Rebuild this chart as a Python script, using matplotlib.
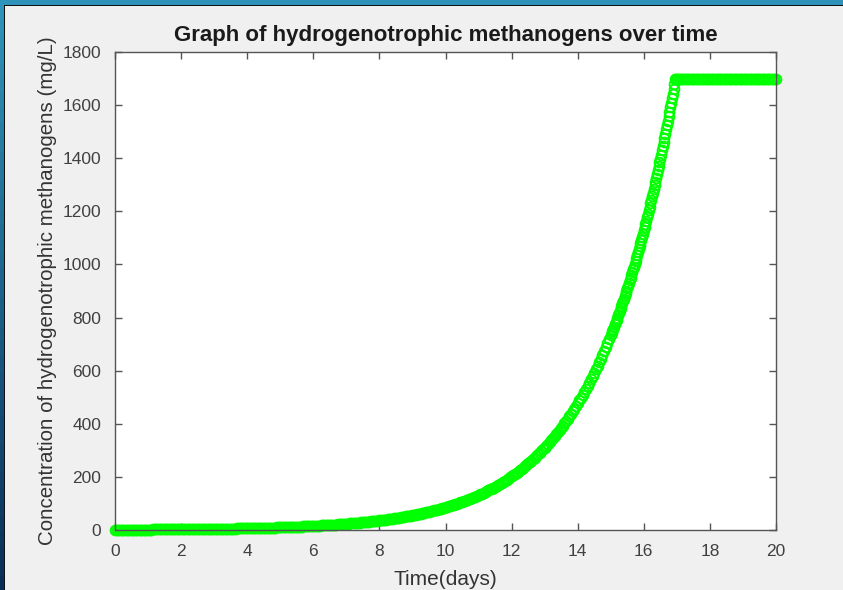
import numpy as np
import matplotlib
matplotlib.use("Agg")
import matplotlib.pyplot as plt
from matplotlib.patches import Rectangle

# Time grid (days) and biomass concentration (mg/L), sampled every 0.05 day
time_days = np.linspace(0, 20, 401)

conc_day0_6 = [
    1.16, 1.19, 1.21, 1.24, 1.26, 1.29, 1.32, 1.35, 1.38, 1.41, 1.44, 1.47, 1.50, 1.53, 1.57, 1.60, 1.64, 1.67, 1.71, 1.75,
    1.78, 1.82, 1.86, 1.90, 1.94, 1.99, 2.03, 2.07, 2.12, 2.16, 2.21, 2.26, 2.31, 2.36, 2.41, 2.46, 2.52, 2.57, 2.63, 2.68,
    2.74, 2.80, 2.86, 2.92, 2.99, 3.05, 3.12, 3.19, 3.26, 3.33, 3.40, 3.47, 3.55, 3.63, 3.70, 3.78, 3.87, 3.95, 4.04, 4.12,
    4.21, 4.31, 4.40, 4.49, 4.59, 4.69, 4.79, 4.90, 5.00, 5.11, 5.22, 5.34, 5.45, 5.57, 5.69, 5.82, 5.94, 6.07, 6.21, 6.34,
    6.48, 6.62, 6.76, 6.91, 7.06, 7.21, 7.37, 7.53, 7.69, 7.86, 8.03, 8.21, 8.38, 8.57, 8.75, 8.94, 9.14, 9.34, 9.54, 9.75,
    9.96, 10.17, 10.40, 10.62, 10.85, 11.09, 11.33, 11.58, 11.83, 12.08, 12.35, 12.62, 12.89, 13.17, 13.46, 13.75, 14.05, 14.35, 14.66, 14.98,
    15.31, 15.64, 15.98, 16.33, 16.68, 17.05, 17.42, 17.80, 18.18, 18.58, 18.98, 19.39, 19.81, 20.25, 20.69, 21.13, 21.59, 22.06, 22.54, 23.03,
]

conc_day7_12 = [
    23.5, 24.0, 24.6, 25.1, 25.6, 26.2, 26.8, 27.4, 28.0, 28.6, 29.2, 29.8, 30.5, 31.1, 31.8, 32.5, 33.2, 33.9, 34.7, 35.4,
    36.2, 37.0, 37.8, 38.6, 39.4, 40.3, 41.2, 42.1, 43.0, 43.9, 44.9, 45.8, 46.8, 47.8, 48.9, 49.9, 51.0, 52.1, 53.3, 54.4,
    55.6, 56.8, 58.1, 59.3, 60.6, 61.9, 63.3, 64.6, 66.1, 67.5, 69.0, 70.5, 72.0, 73.5, 75.1, 76.8, 78.4, 80.2, 81.9, 83.7,
    85.5, 87.4, 89.2, 91.2, 93.2, 95.2, 97.3, 99.4, 101.5, 103.7, 106.0, 108.3, 110.7, 113.1, 115.5, 118.0, 120.6, 123.2, 125.9, 128.6,
    131.4, 134.3, 137.2, 140.2, 143.2, 146.3, 149.5, 152.8, 156.1, 159.5, 162.9, 166.5, 170.1, 173.8, 177.6, 181.4, 185.4, 189.4, 193.5, 197.7,
    202.0, 206.4, 210.9, 215.5, 220.2, 225.0, 229.8, 234.8, 239.9, 245.2, 250.5, 255.9, 261.5, 267.2, 273.0, 278.9, 285.0, 291.2, 297.5, 304.0,
]

conc_day13_16 = [
    310.6, 317.3, 324.2, 331.3, 338.5, 345.8, 353.3, 361.0, 368.9, 376.9, 385.1, 393.4, 402.0, 410.7, 419.7, 428.8, 438.1, 447.6, 457.3, 467.3,
    477.4, 487.8, 498.4, 509.2, 520.3, 531.6, 543.2, 555.0, 567.0, 579.4, 592.0, 604.8, 618.0, 631.4, 645.1, 659.1, 673.5, 688.1, 703.0, 718.3,
    733.9, 749.9, 766.2, 782.8, 799.9, 817.2, 835.0, 853.1, 871.7, 890.6, 910.0, 929.8, 950.0, 970.6, 991.7, 1013.3, 1035.3, 1057.8, 1080.8, 1104.3,
    1128.3, 1152.8, 1177.8, 1203.4, 1229.6, 1256.3, 1283.6, 1311.5, 1340.0, 1369.1, 1398.9, 1429.3, 1460.3, 1492.1, 1524.5, 1557.6, 1591.5, 1626.1, 1661.4, 1697.5,
]

# Carrying capacity reached: concentration stays at 1700 mg/L from day 17 on
conc_plateau = [
    1700, 1700, 1700, 1700, 1700, 1700, 1700, 1700, 1700, 1700, 1700, 1700, 1700, 1700, 1700, 1700, 1700, 1700, 1700, 1700,
    1700, 1700, 1700, 1700, 1700, 1700, 1700, 1700, 1700, 1700, 1700, 1700, 1700, 1700, 1700, 1700, 1700, 1700, 1700, 1700,
    1700, 1700, 1700, 1700, 1700, 1700, 1700, 1700, 1700, 1700, 1700, 1700, 1700, 1700, 1700, 1700, 1700, 1700, 1700, 1700,
    1700,
]

concentration = np.array(conc_day0_6 + conc_day7_12 + conc_day13_16 + conc_plateau)

# Extra samples in the steep growth phase (days 15-17, offset by 0.025 day)
time_days_steep = np.linspace(15.025, 16.975, 40)
conc_steep = [
    741.9, 758.0, 774.5, 791.3, 808.5, 826.1, 844.0, 862.4, 881.1, 900.3,
    919.8, 939.8, 960.2, 981.1, 1002.4, 1024.2, 1046.5, 1069.2, 1092.4, 1116.2,
    1140.4, 1165.2, 1190.6, 1216.4, 1242.9, 1269.9, 1297.5, 1325.7, 1354.5, 1383.9,
    1414.0, 1444.7, 1476.1, 1508.2, 1541.0, 1574.5, 1608.7, 1643.6, 1679.4, 1700.0,
]

x_ticks = [0, 2, 4, 6, 8, 10, 12, 14, 16, 18, 20]
y_ticks = [0, 200, 400, 600, 800, 1000, 1200, 1400, 1600, 1800]

plt.rcParams['font.family'] = ['Liberation Sans', 'DejaVu Sans']

fig = plt.figure(figsize=(8.43, 5.90), dpi=100, facecolor='#f0f0f0')

# Slide frame around the figure window
W, H = 843, 590
def px_rect(x0, y0, w, h, color, z=0):
    fig.patches.append(Rectangle((x0 / W, 1 - (y0 + h) / H), w / W, h / H,
                                 transform=fig.transFigure, facecolor=color,
                                 edgecolor='none', zorder=z))

px_rect(0, 0, W, 5, '#2f93b9')
n_strip = 40
for i in range(n_strip):
    f = i / (n_strip - 1)
    c1 = np.array([0x2f, 0x93, 0xb9]) / 255
    c2 = np.array([0x08, 0x2e, 0x58]) / 255
    col = c1 * (1 - f) + c2 * f
    px_rect(0, 5 + i * (H - 5) / n_strip, 4, (H - 5) / n_strip + 1, col)
px_rect(4, 5, 1.2, H - 5, '#111111', 1)
px_rect(4, 5, W - 4, 1.2, '#111111', 1)

ax = fig.add_axes([115 / W, 1 - 530 / H, (776 - 115) / W, (530 - 52) / H])
ax.set_facecolor('white')

marker_style = dict(linestyle='none', marker='o', markersize=7.0,
                    markerfacecolor='none', markeredgecolor='#00ff00',
                    markeredgewidth=1.4, clip_on=False)
ax.plot(time_days, concentration, **marker_style)
ax.plot(time_days_steep, conc_steep, **marker_style)

ax.set_xlim(0, 20)
ax.set_ylim(0, 1800)
ax.set_xticks(x_ticks)
ax.set_yticks(y_ticks)

tick_color = '#404040'
for side in ['left', 'right', 'top', 'bottom']:
    ax.spines[side].set_color('#555555')
    ax.spines[side].set_linewidth(1.0)
ax.tick_params(direction='in', length=5, width=1.0, color='#555555',
               top=True, right=True, labelsize=12.5, labelcolor=tick_color, pad=10)

ax.set_title('Graph of hydrogenotrophic methanogens over time',
             fontsize=16, fontweight='bold', color='#1a1a1a', pad=8)
ax.set_xlabel('Time(days)', fontsize=15, color='#333333', labelpad=8)
ax.set_ylabel('Concentration of hydrogenotrophic methanogens (mg/L)',
              fontsize=14.8, color='#333333', labelpad=4)

fig.savefig('out.png', dpi=100, facecolor=fig.get_facecolor())
